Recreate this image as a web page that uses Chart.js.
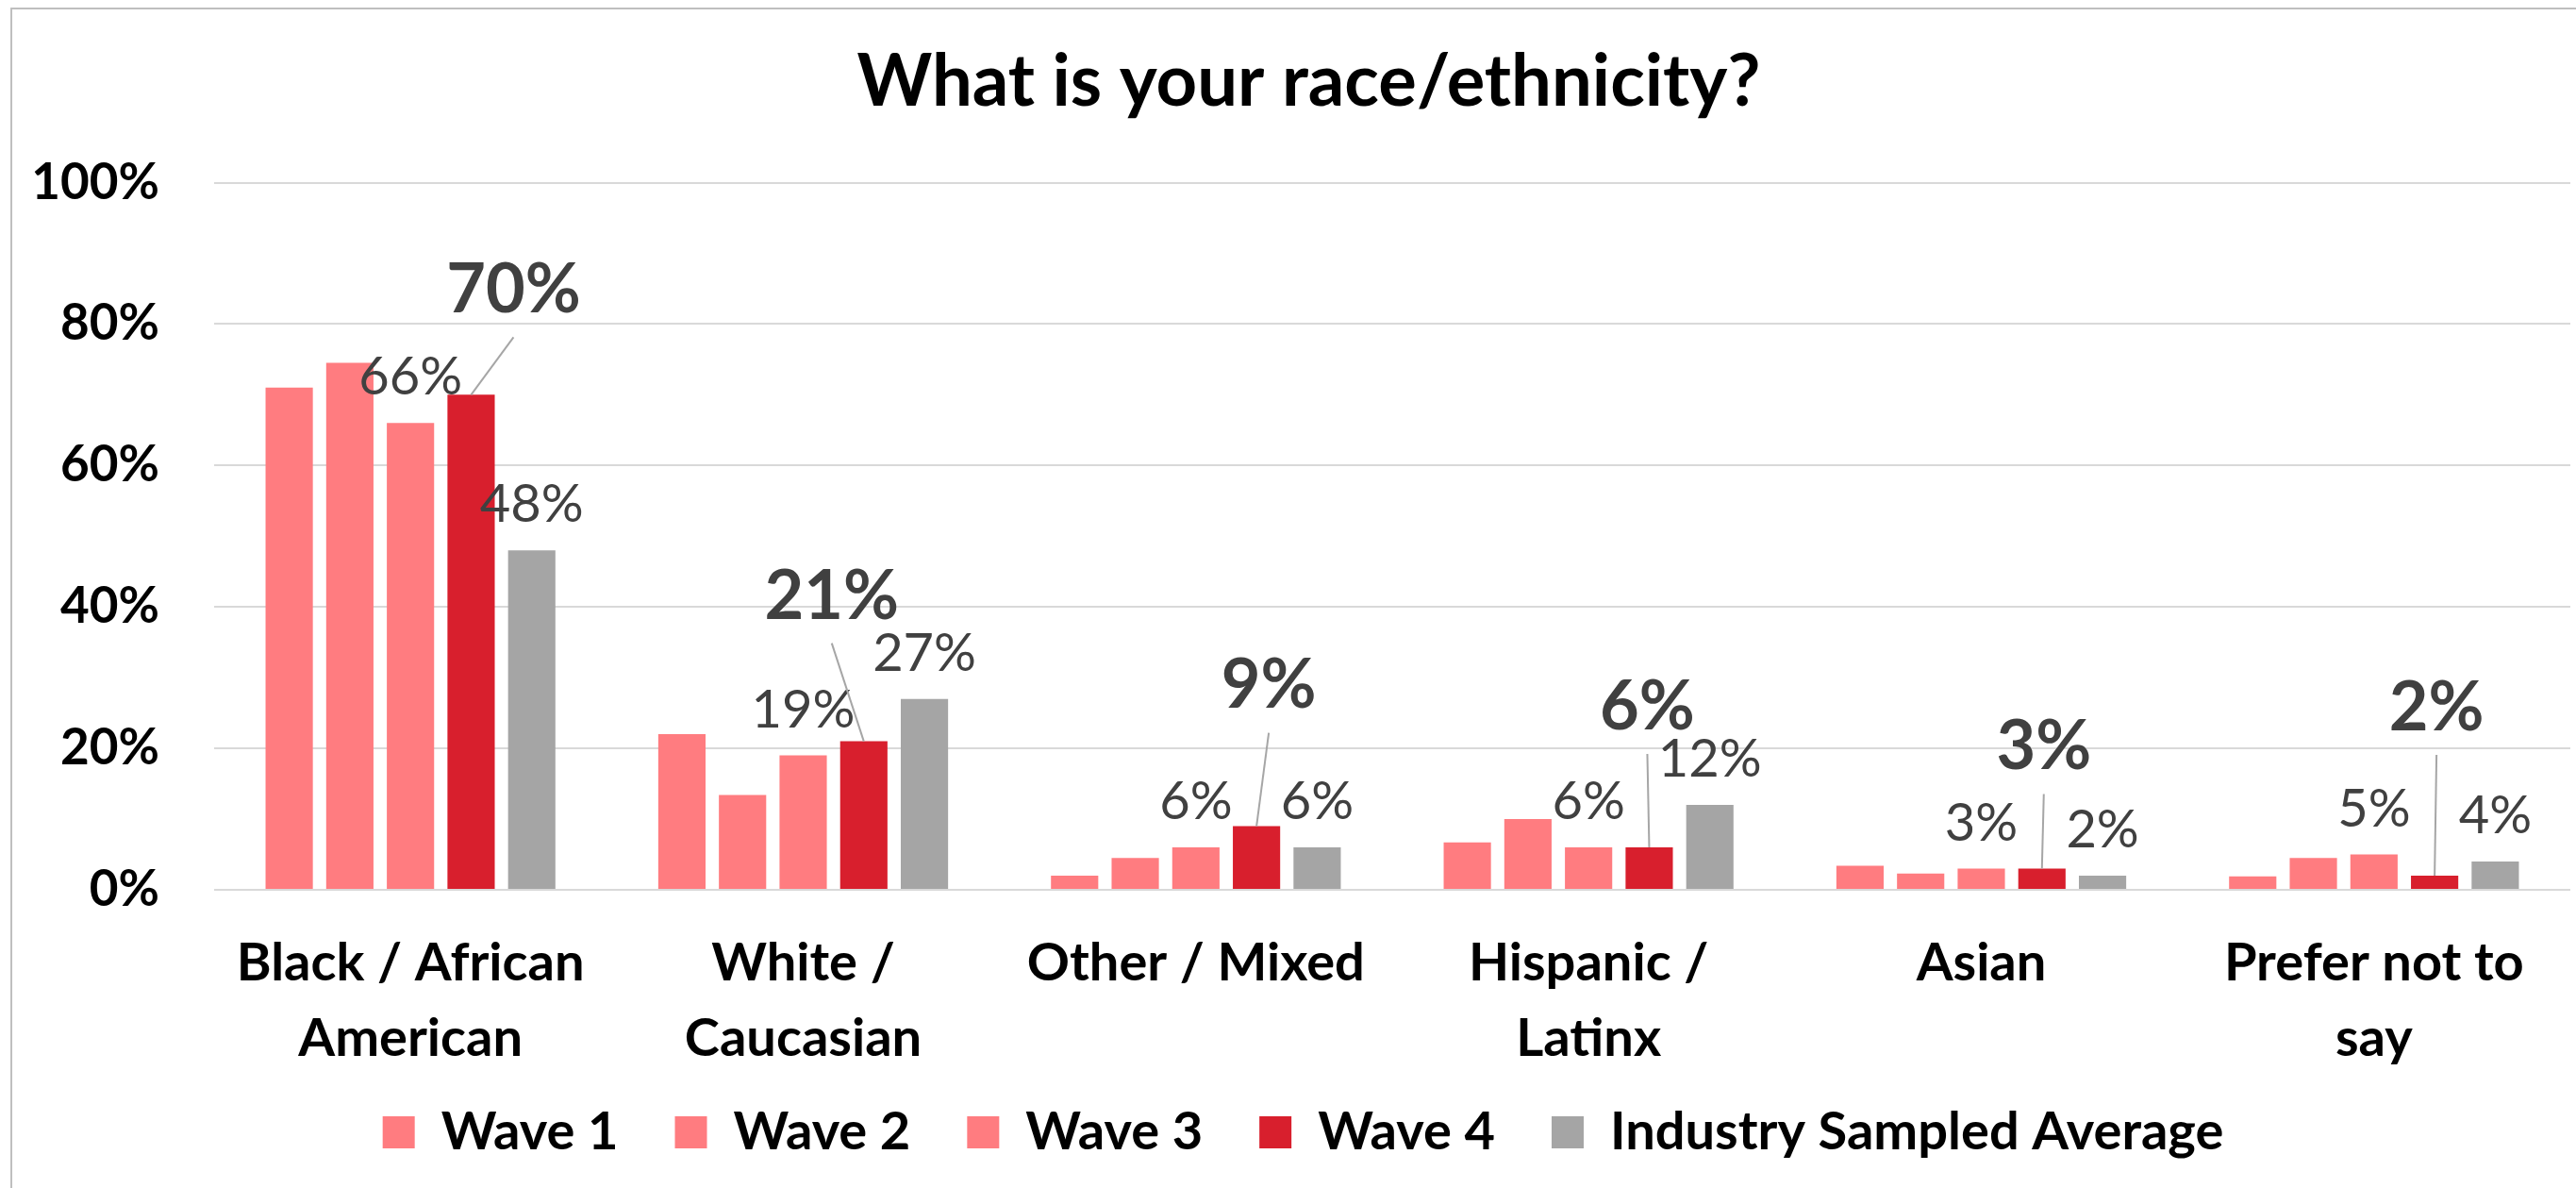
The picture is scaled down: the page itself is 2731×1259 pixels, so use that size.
<!DOCTYPE html>
<html>
<head>
<meta charset="utf-8">
<title>What is your race/ethnicity?</title>
<script src="https://cdn.jsdelivr.net/npm/chart.js@4.4.1/dist/chart.umd.min.js"></script>
<style>
  html, body { margin: 0; padding: 0; background: #ffffff; overflow: hidden; }
  #wrap { position: relative; width: 2731px; height: 1259px; }
</style>
</head>
<body>
<div id="wrap"><canvas id="chart" width="2731" height="1259"></canvas></div>
<script>
// Survey answers by category (percent of respondents)
const categories = [
  ["Black / African", "American"],
  ["White /", "Caucasian"],
  "Other / Mixed",
  ["Hispanic /", "Latinx"],
  "Asian",
  ["Prefer not to", "say"]
];
const wave1 = [71, 22, 2, 6.7, 3.4, 1.9];
const wave2 = [74.5, 13.4, 4.5, 10, 2.3, 4.5];
const wave3 = [66, 19, 6, 6, 3, 5];
const wave4 = [70, 21, 9, 6, 3, 2];
const industryAverage = [48, 27, 6, 12, 2, 4];
const seriesNames = ["Wave 1", "Wave 2", "Wave 3", "Wave 4", "Industry Sampled Average"];
const yTickValues = [0, 20, 40, 60, 80, 100];

const PINK = "#FF7C80";
const RED = "#D81F2D";
const GREY = "#A5A5A5";
const LABEL_INK = "#404040";
const FONT = "Lato, 'Open Sans', sans-serif";

// Wave 4 callouts: horizontal shift and lift above the bar top, per category
const calloutPlacement = [[45, 113], [-34, 156], [13, 151], [-2, 151], [2, 131], [2, 180]];

// Frame lines along the top and left edges plus a white background
const framePlugin = {
  id: "frame",
  beforeDraw(chart) {
    const { ctx, width, height } = chart;
    ctx.save();
    ctx.fillStyle = "#ffffff";
    ctx.fillRect(0, 0, width, height);
    ctx.strokeStyle = "#BFBFBF";
    ctx.lineWidth = 2;
    ctx.beginPath();
    ctx.moveTo(12, height);
    ctx.lineTo(12, 9);
    ctx.lineTo(width, 9);
    ctx.stroke();
    ctx.restore();
  }
};

// Nudge the title and legend sideways, and let the two-line category
// labels run below the axis box instead of being clipped by it
const placementPlugin = {
  id: "placement",
  afterLayout(chart, args, opts) {
    const t = chart.titleBlock;
    if (t) { t.left += opts.titleShift; t.right += opts.titleShift; }
    const lg = chart.legend;
    if (lg) { lg.left += opts.legendShift; lg.right += opts.legendShift; }
    const x = chart.scales.x;
    if (x) { x.bottom = chart.height; }
  }
};

// Percentage labels above selected bars, and leader-line callouts for Wave 4
const valueLabelPlugin = {
  id: "valueLabels",
  afterDatasetsDraw(chart, args, opts) {
    const { ctx } = chart;
    ctx.save();
    ctx.textAlign = "center";
    ctx.textBaseline = "alphabetic";
    ctx.fillStyle = opts.color;

    const plainSize = opts.plainSize;
    ctx.font = `${plainSize}px ${FONT}`;
    opts.plainSeries.forEach(di => {
      const meta = chart.getDatasetMeta(di);
      const values = chart.data.datasets[di].data;
      meta.data.forEach((bar, i) => {
        const cy = bar.y - opts.plainLift;
        ctx.fillText(Math.round(values[i]) + "%", bar.x, cy + plainSize * 0.36);
      });
    });

    const di = opts.calloutSeries;
    const meta = chart.getDatasetMeta(di);
    const values = chart.data.datasets[di].data;
    const boldSize = opts.calloutSize;
    meta.data.forEach((bar, i) => {
      const [dx, lift] = opts.placement[i];
      const lx = bar.x + dx;
      const ly = bar.y - lift;
      ctx.strokeStyle = opts.leaderColor;
      ctx.lineWidth = 2;
      ctx.beginPath();
      ctx.moveTo(lx, ly + 52);
      ctx.lineTo(bar.x, bar.y);
      ctx.stroke();
      ctx.font = `bold ${boldSize}px ${FONT}`;
      ctx.fillText(Math.round(values[i]) + "%", lx, ly + boldSize * 0.36);
    });
    ctx.restore();
  }
};

function build() {
  const colours = [PINK, PINK, PINK, RED, GREY];
  const series = [wave1, wave2, wave3, wave4, industryAverage];
  const datasets = series.map((data, k) => ({
    label: seriesNames[k],
    data: data,
    backgroundColor: colours[k],
    borderWidth: 0,
    categoryPercentage: 0.772,
    barPercentage: 0.78
  }));

  new Chart(document.getElementById("chart"), {
    type: "bar",
    data: { labels: categories, datasets: datasets },
    plugins: [framePlugin, placementPlugin, valueLabelPlugin],
    options: {
      responsive: false,
      animation: false,
      layout: { padding: { left: 0, right: 6, top: 0, bottom: 21 } },
      scales: {
        y: {
          min: 0,
          max: 100,
          afterBuildTicks(scale) {
            scale.ticks = yTickValues.map(v => ({ value: v }));
          },
          afterFit(scale) { scale.width = 227; },
          border: { display: false },
          grid: { color: "#D9D9D9", lineWidth: 2, drawTicks: false },
          ticks: {
            padding: 58,
            color: "#000000",
            font: { family: FONT, size: 53, weight: "bold" },
            callback: v => v + "%"
          }
        },
        x: {
          afterFit(scale) { scale.height = 1259 - 21 - (56 + 60 + 10) - 943; },
          border: { display: false },
          grid: { display: false, drawTicks: false },
          ticks: {
            padding: 38,
            color: "#000000",
            autoSkip: false,
            maxRotation: 0,
            font: { family: FONT, size: 56, weight: "bold", lineHeight: 80 / 56 }
          }
        }
      },
      plugins: {
        title: {
          display: true,
          text: "What is your race/ethnicity?",
          color: "#000000",
          font: { family: FONT, size: 76, weight: "bold", lineHeight: 1.2 },
          padding: { top: 42, bottom: 60.3 }
        },
        legend: {
          position: "bottom",
          labels: {
            color: "#000000",
            boxWidth: 34,
            boxHeight: 34,
            padding: 60,
            font: { family: FONT, size: 56, weight: "bold" }
          }
        },
        tooltip: { enabled: false },
        placement: { titleShift: 25, legendShift: 19 },
        valueLabels: {
          color: LABEL_INK,
          leaderColor: "#A6A6A6",
          plainSeries: [2, 4],
          plainSize: 56,
          plainLift: 50,
          calloutSeries: 3,
          calloutSize: 72,
          placement: calloutPlacement
        }
      }
    }
  });
}

const fontLoads = [
  document.fonts.load(`bold 56px ${FONT}`),
  document.fonts.load(`56px ${FONT}`)
];
Promise.all(fontLoads).then(build, build);
</script>
</body>
</html>
